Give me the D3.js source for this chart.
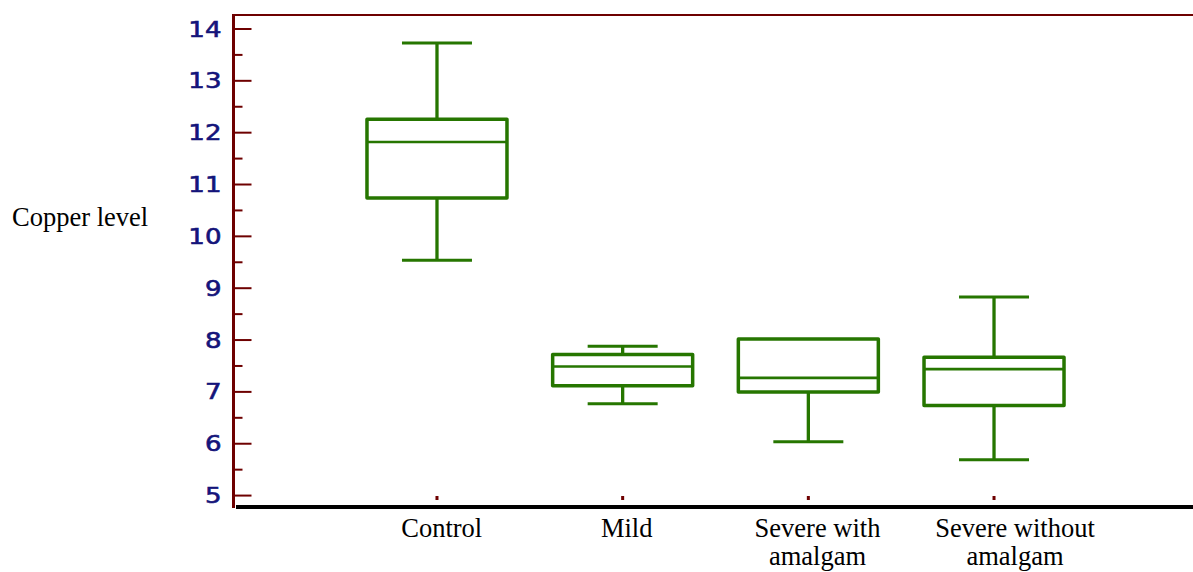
<!DOCTYPE html>
<html>
<head>
<meta charset="utf-8">
<script src="https://cdn.jsdelivr.net/npm/d3@7"></script>
<style>
  html, body { margin: 0; padding: 0; background: #fff; }
  svg { display: block; }
</style>
</head>
<body>
<svg id="chart" width="1193" height="572"></svg>
<script>
// box plot data
const categories = ["Control", "Mild", "Severe with amalgam", "Severe without amalgam"];
const labelLines = [["Control"], ["Mild"], ["Severe with", "amalgam"], ["Severe without", "amalgam"]];
const whiskerLow = [9.53, 6.76, 6.03, 5.68];
const q1 = [10.73, 7.11, 6.99, 6.73];
const median = [11.81, 7.48, 7.26, 7.43];
const q3 = [12.25, 7.71, 8.01, 7.66];
const whiskerHigh = [13.72, 7.87, 8.01, 8.82];
const yTicks = [5, 6, 7, 8, 9, 10, 11, 12, 13, 14];
const yMinorTicks = [5.5, 6.5, 7.5, 8.5, 9.5, 10.5, 11.5, 12.5, 13.5];

const axisRed = "#6e0000";
const boxGreen = "#267600";
const labelBlue = "#14147a";

const svg = d3.select("#chart");

// scales
const y = d3.scaleLinear().domain([4.77, 14.26]).range([507, 15]);
const x = d3.scalePoint().domain(categories).range([251.3, 1179.7]).padding(1);
// the category labels sit a little right of their ticks in the original
const xLabel = d3.scaleOrdinal().domain(categories).range([441.7, 626.7, 817.5, 1015]);
const boxW = 140, capW = 70;

const data = categories.map((c, i) => ({
  cat: c, lo: whiskerLow[i], q1: q1[i], med: median[i], q3: q3[i], hi: whiskerHigh[i]
}));

// top border
svg.append("line")
  .attr("x1", 232).attr("x2", 1193)
  .attr("y1", 15).attr("y2", 15)
  .attr("stroke", axisRed).attr("stroke-width", 2);

// minor ticks
svg.append("g")
  .attr("transform", "translate(233.5,0)")
  .call(d3.axisLeft(y).tickValues(yMinorTicks).tickSize(-9).tickFormat(""))
  .call(g => g.select(".domain").remove())
  .call(g => g.selectAll("line").attr("stroke", axisRed).attr("stroke-width", 2));

// major ticks + labels
const yAxis = svg.append("g")
  .attr("transform", "translate(233.5,0)")
  .call(d3.axisLeft(y).tickValues(yTicks).tickSize(-18).tickPadding(12))
  .call(g => g.select(".domain").remove());
yAxis.selectAll("line").attr("stroke", axisRed).attr("stroke-width", 2);
yAxis.selectAll("text")
  .attr("fill", labelBlue)
  .attr("stroke", labelBlue)
  .attr("stroke-width", 0.6)
  .attr("font-family", "DejaVu Sans, sans-serif")
  .attr("font-size", 21)
  .attr("dy", "0.36em")
  .attr("text-anchor", "end")
  .each(function () {
    const t = d3.select(this);
    const xx = +t.attr("x");
    t.attr("x", null).attr("transform", `translate(${xx},0) scale(1.24,1)`);
  });

// left axis line
svg.append("line")
  .attr("x1", 233.5).attr("x2", 233.5)
  .attr("y1", 14).attr("y2", 508)
  .attr("stroke", axisRed).attr("stroke-width", 3);

// bottom axis line
svg.append("line")
  .attr("x1", 236).attr("x2", 1193)
  .attr("y1", 507).attr("y2", 507)
  .attr("stroke", "#000").attr("stroke-width", 4);

// category tick marks
svg.append("g").selectAll("rect")
  .data(categories)
  .join("rect")
  .attr("x", d => x(d) - 1.5)
  .attr("y", 496)
  .attr("width", 3).attr("height", 4)
  .attr("fill", axisRed);

// category labels
svg.append("g").selectAll("text")
  .data(categories)
  .join("text")
  .attr("x", d => xLabel(d))
  .attr("y", 536.5)
  .attr("text-anchor", "middle")
  .attr("font-family", "Liberation Serif, Times New Roman, serif")
  .attr("font-size", 26.5)
  .attr("fill", "#000")
  .each(function (d, i) {
    d3.select(this).selectAll("tspan")
      .data(labelLines[i])
      .join("tspan")
      .attr("x", xLabel(d))
      .attr("dy", (l, j) => j === 0 ? 0 : 28)
      .text(l => l);
  });

// y title
svg.append("text")
  .attr("x", 12).attr("y", 226)
  .attr("font-family", "Liberation Serif, Times New Roman, serif")
  .attr("font-size", 26.5)
  .attr("fill", "#000")
  .text("Copper level");

// boxes
const boxes = svg.append("g").selectAll("g")
  .data(data)
  .join("g")
  .attr("stroke", boxGreen)
  .attr("fill", "none");

// whiskers
boxes.append("line")
  .attr("x1", d => x(d.cat)).attr("x2", d => x(d.cat))
  .attr("y1", d => y(d.hi)).attr("y2", d => y(d.q3))
  .attr("stroke-width", 3.3);
boxes.append("line")
  .attr("x1", d => x(d.cat)).attr("x2", d => x(d.cat))
  .attr("y1", d => y(d.q1)).attr("y2", d => y(d.lo))
  .attr("stroke-width", 3.3);
// caps
boxes.filter(d => d.hi > d.q3).append("line")
  .attr("x1", d => x(d.cat) - capW / 2).attr("x2", d => x(d.cat) + capW / 2)
  .attr("y1", d => y(d.hi)).attr("y2", d => y(d.hi))
  .attr("stroke-width", 3);
boxes.append("line")
  .attr("x1", d => x(d.cat) - capW / 2).attr("x2", d => x(d.cat) + capW / 2)
  .attr("y1", d => y(d.lo)).attr("y2", d => y(d.lo))
  .attr("stroke-width", 3);
// box
boxes.append("rect")
  .attr("x", d => x(d.cat) - boxW / 2)
  .attr("y", d => y(d.q3))
  .attr("width", boxW)
  .attr("height", d => y(d.q1) - y(d.q3))
  .attr("stroke-width", 3.5)
  .attr("stroke-linejoin", "round");
// median
boxes.append("line")
  .attr("x1", d => x(d.cat) - boxW / 2).attr("x2", d => x(d.cat) + boxW / 2)
  .attr("y1", d => y(d.med)).attr("y2", d => y(d.med))
  .attr("stroke-width", 2.6);
</script>
</body>
</html>
